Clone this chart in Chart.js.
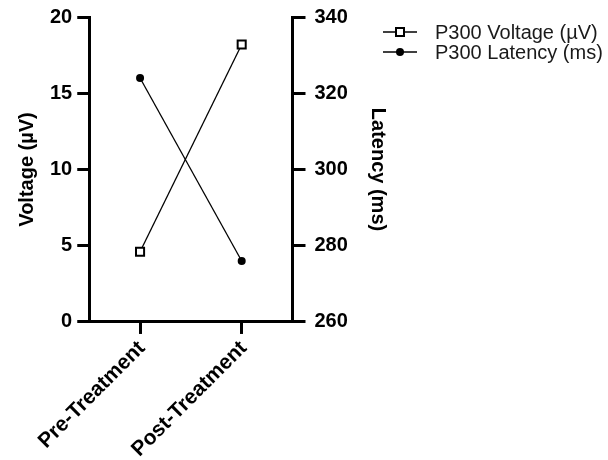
<!DOCTYPE html>
<html>
<head>
<meta charset="utf-8">
<title>P300 Voltage and Latency</title>
<script src="https://cdn.jsdelivr.net/npm/chart.js@4.4.1/dist/chart.umd.min.js"></script>
<style>
    body { margin: 0; background: #fff; }
    #wrap { width: 608px; height: 460px; }
</style>
</head>
<body>
<div id="wrap"><canvas id="p300Chart" width="608" height="460"></canvas></div>
<script>
// ---- data ----
const categories = ['Pre-Treatment', 'Post-Treatment'];
const voltageValues = [4.6, 18.2];     // µV, left axis
const latencyValues = [324, 276];      // ms, right axis
const voltageTicks = [0, 5, 10, 15, 20];
const latencyTicks = [260, 280, 300, 320, 340];

const FONT = 'Arial, "Liberation Sans", Helvetica, sans-serif';

// legend drawn by hand: line with the series marker, like the original figure
const lineLegend = {
    id: 'lineLegend',
    afterDraw(chart) {
        const ctx = chart.ctx;
        const x0 = 383, x1 = 417, textX = 435;
        chart.data.datasets.forEach((ds, i) => {
            const y = 32 + i * 20;
            const cx = (x0 + x1) / 2;
            ctx.save();
            ctx.strokeStyle = '#000';
            ctx.lineWidth = 1.5;
            ctx.beginPath();
            ctx.moveTo(x0, y);
            ctx.lineTo(x1, y);
            ctx.stroke();
            if (ds.pointStyle === 'rect') {
                ctx.fillStyle = '#fff';
                ctx.lineWidth = 2;
                ctx.fillRect(cx - 4, y - 4, 8, 8);
                ctx.strokeRect(cx - 4, y - 4, 8, 8);
            } else {
                ctx.fillStyle = '#000';
                ctx.beginPath();
                ctx.arc(cx, y, 4, 0, Math.PI * 2);
                ctx.fill();
            }
            ctx.fillStyle = '#1a1a1a';
            ctx.font = '20px ' + FONT;
            ctx.textBaseline = 'middle';
            ctx.textAlign = 'left';
            ctx.fillText(ds.label, textX, y + 1);
            ctx.restore();
        });
    }
};

function axisStyle(tickLen) {
    return {
        grid: {
            display: true,
            drawOnChartArea: false,
            drawTicks: true,
            tickLength: tickLen,
            color: '#000',
            lineWidth: 3,
            offset: false
        },
        border: { display: true, color: '#000', width: 3 }
    };
}

const ctx = document.getElementById('p300Chart');
new Chart(ctx, {
    type: 'line',
    data: {
        labels: categories,
        datasets: [{
            label: 'P300 Voltage (µV)',
            data: voltageValues,
            yAxisID: 'y',
            borderColor: '#000',
            borderWidth: 1.3,
            pointStyle: 'rect',
            pointRadius: 5.7,
            pointBorderWidth: 2,
            pointBackgroundColor: '#fff',
            pointBorderColor: '#000',
            tension: 0
        }, {
            label: 'P300 Latency (ms)',
            data: latencyValues,
            yAxisID: 'y1',
            borderColor: '#000',
            borderWidth: 1.3,
            pointStyle: 'circle',
            pointRadius: 4,
            pointBorderWidth: 0,
            pointBackgroundColor: '#000',
            tension: 0
        }]
    },
    options: {
        responsive: false,
        animation: false,
        layout: { padding: { left: 0, right: 218, top: 17, bottom: 0 } },
        plugins: {
            legend: { display: false },
            tooltip: { enabled: false }
        },
        scales: {
            x: {
                ...axisStyle(12),
                offset: true,
                ticks: {
                    color: '#000',
                    font: { family: FONT, size: 21, weight: 'bold' },
                    minRotation: 45,
                    maxRotation: 45,
                    padding: -2,
                    labelOffset: 6,
                    // trailing space pushes the slanted label a little further from its tick
                    callback: function(value) { return this.getLabelForValue(value) + ' '; }
                }
            },
            y: {
                ...axisStyle(12),
                position: 'left',
                min: voltageTicks[0],
                max: voltageTicks[voltageTicks.length - 1],
                afterBuildTicks: axis => { axis.ticks = voltageTicks.map(v => ({ value: v })); },
                ticks: {
                    color: '#000',
                    font: { family: FONT, size: 20, weight: 'bold' },
                    padding: 5
                },
                title: {
                    display: true,
                    text: 'Voltage (µV)',
                    color: '#000',
                    font: { family: FONT, size: 20, weight: 'bold' },
                    padding: { top: 15, bottom: 6 }
                }
            },
            y1: {
                ...axisStyle(13),
                position: 'right',
                min: latencyTicks[0],
                max: latencyTicks[latencyTicks.length - 1],
                afterBuildTicks: axis => { axis.ticks = latencyTicks.map(v => ({ value: v })); },
                ticks: {
                    color: '#000',
                    font: { family: FONT, size: 20, weight: 'bold', lineHeight: 0.8 },
                    padding: 9
                },
                title: {
                    display: true,
                    text: 'Latency (ms)',
                    color: '#000',
                    font: { family: FONT, size: 20, weight: 'bold' },
                    padding: { top: 0, bottom: 17 }
                }
            }
        }
    },
    plugins: [lineLegend]
});
</script>
</body>
</html>
